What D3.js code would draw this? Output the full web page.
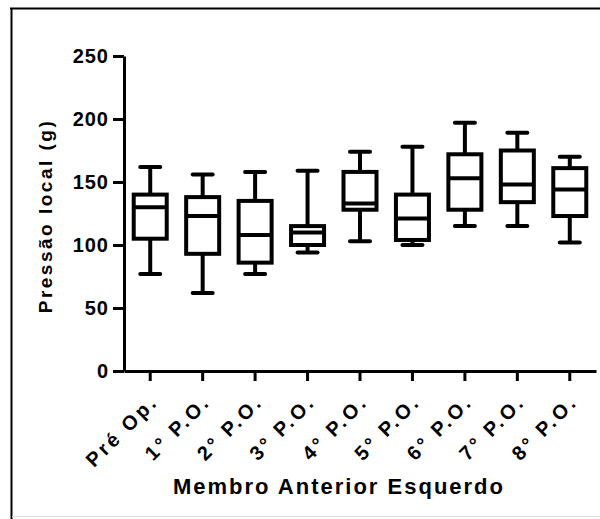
<!DOCTYPE html>
<html>
<head>
<meta charset="utf-8">
<script src="https://cdn.jsdelivr.net/npm/d3@7"></script>
<style>
  body { margin: 0; background: #fff; }
  text { font-family: "Liberation Sans", Arial, sans-serif; fill: #000; }
</style>
</head>
<body>
<div id="chart"></div>
<script>
// Data (g)
const categories = ["Pré Op.", "1° P.O.", "2° P.O.", "3° P.O.", "4° P.O.", "5° P.O.", "6° P.O.", "7° P.O.", "8° P.O."];
const mins    = [77, 62, 77, 94, 103, 100, 115, 115, 102];
const q1s     = [105, 93, 86, 100, 128, 104, 128, 134, 123];
const medians = [130, 123, 108, 110, 133, 121, 153, 148, 144];
const q3s     = [140, 138, 135, 115, 158, 140, 172, 175, 161];
const maxs    = [162, 156, 158, 159, 174, 178, 197, 189, 170];
const yTicks  = [0, 50, 100, 150, 200, 250];

const svgWidth = 600;
const svgHeight = 519;

const svg = d3.select("#chart")
  .append("svg")
  .attr("width", svgWidth)
  .attr("height", svgHeight);

svg.append("rect")
  .attr("width", svgWidth)
  .attr("height", svgHeight)
  .attr("fill", "#fff");

// frame around the picture
svg.append("line").attr("x1", 10).attr("x2", 600).attr("y1", 8.5).attr("y2", 8.5)
  .attr("stroke", "#000").attr("stroke-width", 2);
svg.append("line").attr("x1", 11.5).attr("x2", 11.5).attr("y1", 8).attr("y2", 519)
  .attr("stroke", "#000").attr("stroke-width", 2);
svg.append("line").attr("x1", 12).attr("x2", 600).attr("y1", 516.5).attr("y2", 516.5)
  .attr("stroke", "#ddd").attr("stroke-width", 1);

// scales
const x = d3.scaleBand()
  .domain(categories)
  .range([124, 596]);

const y = d3.scaleLinear()
  .domain([0, 250])
  .range([371, 56]);

// y axis
const yAxis = svg.append("g")
  .attr("transform", "translate(124, 0)")
  .call(d3.axisLeft(y).tickValues(yTicks).tickSize(11).tickSizeOuter(0).tickPadding(4));

yAxis.select(".domain").attr("stroke-width", 3);
yAxis.selectAll(".tick line").attr("stroke-width", 3);
yAxis.selectAll(".tick text")
  .style("font-size", "20px")
  .style("font-weight", "bold")
  .style("letter-spacing", "1px")
  .attr("fill", "#000");

// x axis
const xAxis = svg.append("g")
  .attr("transform", "translate(0, 371)")
  .call(d3.axisBottom(x).tickSize(10).tickSizeOuter(0));

xAxis.select(".domain").attr("stroke-width", 3);
xAxis.selectAll(".tick line").attr("stroke-width", 3);
xAxis.selectAll(".tick text")
  .attr("text-anchor", "end")
  .attr("x", 0)
  .attr("y", 0)
  .attr("dy", "0")
  .attr("transform", "translate(9, 32) rotate(-45)")
  .style("font-size", "20px")
  .style("font-weight", "bold")
  .style("letter-spacing", "3px")
  .attr("fill", "#000");

// box plots
const boxWidth = 33;
const capWidth = 20;
const boxes = svg.append("g")
  .attr("stroke", "#000")
  .attr("stroke-width", 4)
  .attr("fill", "none");

categories.forEach((c, i) => {
  const cx = x(c) + x.bandwidth() / 2;
  const g = boxes.append("g");

  // whiskers
  g.append("line")
    .attr("x1", cx).attr("x2", cx)
    .attr("y1", y(maxs[i])).attr("y2", y(q3s[i]));
  g.append("line")
    .attr("x1", cx).attr("x2", cx)
    .attr("y1", y(q1s[i])).attr("y2", y(mins[i]));
  g.append("line")
    .attr("x1", cx - capWidth / 2).attr("x2", cx + capWidth / 2)
    .attr("y1", y(maxs[i])).attr("y2", y(maxs[i]))
    .attr("stroke-linecap", "round");
  g.append("line")
    .attr("x1", cx - capWidth / 2).attr("x2", cx + capWidth / 2)
    .attr("y1", y(mins[i])).attr("y2", y(mins[i]))
    .attr("stroke-linecap", "round");

  // box
  g.append("rect")
    .attr("x", cx - boxWidth / 2)
    .attr("y", y(q3s[i]))
    .attr("width", boxWidth)
    .attr("height", y(q1s[i]) - y(q3s[i]))
    .attr("fill", "#fff");

  // median
  g.append("line")
    .attr("x1", cx - boxWidth / 2).attr("x2", cx + boxWidth / 2)
    .attr("y1", y(medians[i])).attr("y2", y(medians[i]));
});

// axis titles
svg.append("text")
  .attr("transform", "translate(52, 216) rotate(-90)")
  .attr("text-anchor", "middle")
  .style("font-size", "19px")
  .style("font-weight", "bold")
  .style("letter-spacing", "2.5px")
  .text("Pressão local (g)");

svg.append("text")
  .attr("x", 339)
  .attr("y", 494)
  .attr("text-anchor", "middle")
  .style("font-size", "22px")
  .style("font-weight", "bold")
  .style("letter-spacing", "2px")
  .text("Membro Anterior Esquerdo");
</script>
</body>
</html>
